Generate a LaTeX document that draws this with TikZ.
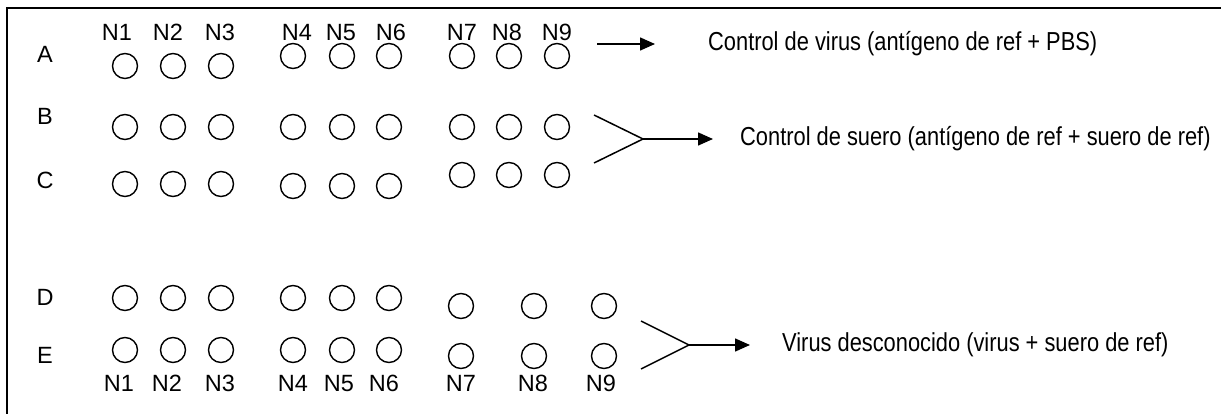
\documentclass[tikz,border=0pt]{standalone}
\usepackage{fontspec}
\setmainfont{Liberation Sans}
\newfontfamily\narrowfont[FakeStretch=0.84]{Liberation Sans}
\usetikzlibrary{arrows.meta}

\begin{document}
\begin{tikzpicture}[
    x=1pt, y=-1pt,
    well/.style={
        draw,
        circle,
        line width=1.4pt,
        minimum size=25pt,
        inner sep=0pt
    },
    lbl/.style={
        font=\fontsize{23.5}{28}\selectfont,
        anchor=base,
        inner sep=0pt
    },
    note/.style={
        font=\narrowfont\fontsize{26}{30}\selectfont,
        anchor=west,
        inner sep=0pt
    },
    fork/.style={
        line width=1.5pt
    },
    arrow/.style={
        -{Triangle[length=15pt,width=13pt]},
        line width=1.5pt
    }
]
\useasboundingbox (0,0) rectangle (1221,414);

% Frame
\draw[line width=2.5pt] (7,414) -- (7,8) -- (1221,8);

% Row letters (placed on their baselines)
\node[lbl] (rowA) at (45,63)  {A};
\node[lbl] (rowB) at (45,125) {B};
\node[lbl] (rowC) at (45,189) {C};
\node[lbl] (rowD) at (45,305) {D};
\node[lbl] (rowE) at (45,363) {E};

% Column labels
\foreach \x [count=\i] in {117,168,220,297,341,391,462,507,557}
    \node[lbl] (top\i) at (\x,41) {N\i};
\foreach \x [count=\i] in {119,167,220,293,339,384,461,533,601}
    \node[lbl] (bot\i) at (\x,391) {N\i};

% Wells
\foreach \x/\y [count=\i] in {125/66,173/66,221/66,293/56,342/56,389/56,462/56,509/56,557/56}
    \node[well] (A\i) at (\x,\y) {};
\foreach \x/\y [count=\i] in {125/127,173/127,221/127,293/127,342/127,389/127,462/127,509/127,557/127}
    \node[well] (B\i) at (\x,\y) {};
\foreach \x/\y [count=\i] in {125/184,173/184,221/184,293/186,342/186,389/186,462/175,509/175,557/175}
    \node[well] (C\i) at (\x,\y) {};
\foreach \x/\y [count=\i] in {125/298,173/298,221/298,293/298,342/298,389/298,461/306,534/306,604/306}
    \node[well] (D\i) at (\x,\y) {};
\foreach \x/\y [count=\i] in {125/350,173/350,221/350,293/350,342/350,389/350,461/356,534/356,604/356}
    \node[well] (E\i) at (\x,\y) {};

% Notes
\node[note] (virus)   at (708,44)  {Control de virus (antígeno de ref + PBS)};
\node[note] (suero)   at (740,139) {Control de suero (antígeno de ref + suero de ref)};
\node[note] (unknown) at (782,345) {Virus desconocido (virus + suero de ref)};

% Arrows
\coordinate (aStart) at (597,44);
\draw[arrow, shorten >=53pt] (aStart) -- (virus);

\coordinate (bcTop)  at (594,115);
\coordinate (bcBot)  at (594,163);
\coordinate (bcJoin) at (643,139);
\draw[fork] (bcTop) -- (bcJoin) -- (bcBot);
\draw[arrow, shorten >=27pt] (bcJoin) -- (suero);

\coordinate (deTop)  at (641,321);
\coordinate (deBot)  at (641,369);
\coordinate (deJoin) at (689,345);
\draw[fork] (deTop) -- (deJoin) -- (deBot);
\draw[arrow, shorten >=32pt] (deJoin) -- (unknown);

\end{tikzpicture}
\end{document}
